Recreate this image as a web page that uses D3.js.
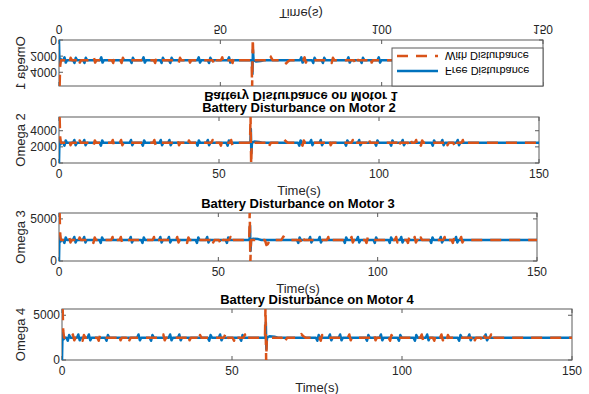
<!DOCTYPE html>
<html>
<head>
<meta charset="utf-8">
<script src="https://cdn.jsdelivr.net/npm/d3@7"></script>
<style>
body{margin:0;background:#fff;}
svg{display:block;font-family:"Liberation Sans",Arial,sans-serif;}
</style>
</head>
<body>
<div id="chart"></div>
<script>
// chart data
var titles = ["Battery Disturbance on Motor 1","Battery Disturbance on Motor 2","Battery Disturbance on Motor 3","Battery Disturbance on Motor 4"];
var yLabels = ["Omega 1","Omega 2","Omega 3","Omega 4"];
var xLabel = "Time(s)";
var xTicks = [0,50,100,150];
var yTicks = [[0,2000,4000],[0,2000,4000],[0,5000],[0,5000]];
var seriesNames = ["Free Disturbance","With Disturbance"];

var freeDist = [[0,0],[0.15,3000],[0.4,2300],[0.8,2500],
  [1.3,2500],[1.7,2150],[2.1,2800],[2.5,2500],
  [4.4,2500],[4.8,2850],[5.2,2200],[5.6,2500],
  [7.5,2500],[7.9,2850],[8.3,2200],[8.7,2500],
  [12.7,2500],[13.1,2150],[13.5,2800],[13.9,2500],
  [22.1,2500],[22.5,2850],[22.9,2200],[23.3,2500],
  [25.8,2500],[26.2,2150],[26.6,2800],[27,2500],
  [31.4,2500],[31.8,2850],[32.2,2200],[32.6,2500],
  [34.1,2500],[34.5,2850],[34.9,2200],[35.3,2500],
  [42.9,2500],[43.3,2150],[43.7,2800],[44.1,2500],
  [46.1,2500],[46.5,2850],[46.9,2200],[47.3,2500],
  [52.3,2500],[52.7,2150],[53.1,2800],[53.5,2500],
  [59.8,2500],[59.95,4200],[60.1,1200],[60.3,2500],[61,2650],[62.5,2600],[63.5,2500],
  [74.7,2500],[75.1,2150],[75.5,2800],[75.9,2500],
  [78.4,2500],[78.8,2850],[79.2,2200],[79.6,2500],
  [81.4,2500],[81.8,2850],[82.2,2200],[82.6,2500],
  [89.3,2500],[89.7,2150],[90.1,2800],[90.5,2500],
  [93.4,2500],[93.8,2850],[94.2,2200],[94.6,2500],
  [98.7,2500],[99.1,2150],[99.5,2800],[99.9,2500],
  [103.4,2500],[103.8,2150],[104.2,2800],[104.6,2500],
  [107,2500],[107.4,2850],[107.8,2200],[108.2,2500],
  [116.4,2500],[116.8,2150],[117.2,2800],[117.6,2500],
  [119.4,2500],[119.8,2850],[120.2,2200],[120.6,2500],
  [124.2,2500],[124.6,2850],[125,2200],[125.4,2500],
  [150,2500]];

var withDist = [[0,5600],[0.2,5600],[0.35,3300],[0.6,2500],
  [2.8,2500],[3.2,2850],[3.6,2200],[4,2500],
  [5.65,2500],[6.05,2150],[6.45,2800],[6.85,2500],
  [10.4,2500],[10.8,2150],[11.2,2800],[11.6,2500],
  [16.4,2500],[16.8,2850],[17.2,2200],[17.6,2500],
  [19,2500],[19.4,2850],[19.8,2200],[20.2,2500],
  [29.4,2500],[29.8,2850],[30.2,2200],[30.6,2500],
  [36.7,2500],[37.1,2850],[37.5,2200],[37.9,2500],
  [39.8,2500],[40.2,2150],[40.6,2800],[41,2500],
  [47.6,2500],[48,2850],[48.4,2200],[48.8,2500],
  [50.2,2500],[50.6,2150],[51,2800],[51.4,2500],
  [53.4,2500],[53.8,2850],[54.2,2200],[54.6,2500],
  [59.7,2500],[59.85,6000],[60.05,-200],[60.25,2500],
  [64.6,2500],[65.1,1900],[65.5,2000],[66.2,2500],
  [69.8,2500],[70.4,2900],[71,2650],[71.6,2500],
  [75.7,2500],[76.1,2150],[76.5,2800],[76.9,2500],
  [84.1,2500],[84.5,2850],[84.9,2200],[85.3,2500],
  [91.4,2500],[91.8,2850],[92.2,2200],[92.6,2500],
  [96.1,2500],[96.5,2150],[96.9,2800],[97.3,2500],
  [105.4,2500],[105.8,2850],[106.2,2200],[106.6,2500],
  [109.1,2500],[109.5,2150],[109.9,2800],[110.3,2500],
  [111.2,2500],[111.6,2850],[112,2200],[112.4,2500],
  [112.7,2500],[113.1,2150],[113.5,2800],[113.9,2500],
  [120.6,2500],[121,2850],[121.4,2200],[121.8,2500],
  [123.2,2500],[123.6,2150],[124,2800],[124.4,2500],
  [125.8,2500],[126.2,2850],[126.6,2200],[127,2500],
  [150,2500]];

// panel boxes in the picture (first one is mirrored upside down)
var panels = [
  {x0:59, x1:543, y0:40, y1:86, flip:true},
  {x0:59, x1:539, y0:117, y1:163},
  {x0:59, x1:537, y0:213, y1:261},
  {x0:62, x1:572, y0:309, y1:360}
];
var blue = "#0072bd", orange = "#d95319", axisCol = "#5a5a5a", textCol = "#262626";

var svg = d3.select("#chart").append("svg")
  .attr("width", 589)
  .attr("height", 394);

panels.forEach(function(p, i) {
  var g = svg.append("g");
  if (p.flip) g.attr("transform", "translate(0," + (p.y0 + p.y1) + ") scale(1,-1)");

  var x = d3.scaleLinear().domain([0,150]).range([p.x0, p.x1]);
  var y = d3.scaleLinear().domain([0,5700]).range([p.y1, p.y0]);

  g.append("rect")
    .attr("x", p.x0).attr("y", p.y0)
    .attr("width", p.x1 - p.x0).attr("height", p.y1 - p.y0)
    .attr("fill", "#fff").attr("stroke", axisCol).attr("stroke-width", 1);

  // ticks inside the box on all four sides
  xTicks.forEach(function(t) {
    g.append("line").attr("x1", x(t)).attr("x2", x(t)).attr("y1", p.y1).attr("y2", p.y1 - 4).attr("stroke", axisCol);
    g.append("line").attr("x1", x(t)).attr("x2", x(t)).attr("y1", p.y0).attr("y2", p.y0 + 4).attr("stroke", axisCol);
    g.append("text").attr("x", x(t)).attr("y", p.y1 + 11)
      .attr("text-anchor", "middle").attr("dominant-baseline", "central")
      .attr("font-size", 12).attr("fill", textCol).text(t);
  });
  yTicks[i].forEach(function(t) {
    g.append("line").attr("x1", p.x0).attr("x2", p.x0 + 4).attr("y1", y(t)).attr("y2", y(t)).attr("stroke", axisCol);
    g.append("line").attr("x1", p.x1).attr("x2", p.x1 - 4).attr("y1", y(t)).attr("y2", y(t)).attr("stroke", axisCol);
    g.append("text").attr("x", p.x0 - 2).attr("y", y(t))
      .attr("text-anchor", "end").attr("dominant-baseline", "central")
      .attr("font-size", 12).attr("fill", textCol).text(t);
  });

  g.append("text").attr("x", (p.x0 + p.x1) / 2).attr("y", p.y1 + 27)
    .attr("text-anchor", "middle").attr("dominant-baseline", "central")
    .attr("font-size", 13).attr("fill", textCol).text(xLabel);
  g.append("text")
    .attr("transform", "translate(20," + ((p.y0 + p.y1) / 2) + ") rotate(-90)")
    .attr("text-anchor", "middle").attr("dominant-baseline", "central")
    .attr("font-size", 13).attr("fill", textCol).text(yLabels[i]);
  g.append("text").attr("x", (p.x0 + p.x1) / 2).attr("y", p.y0 - 10)
    .attr("text-anchor", "middle").attr("dominant-baseline", "central")
    .attr("font-size", 13).attr("font-weight", "bold").attr("fill", "#000").text(titles[i]);

  var clipId = "clip" + i;
  g.append("clipPath").attr("id", clipId).append("rect")
    .attr("x", p.x0).attr("y", p.y0).attr("width", p.x1 - p.x0).attr("height", p.y1 - p.y0);

  var line = d3.line().x(function(d) { return x(d[0]); }).y(function(d) { return y(d[1]); });
  var plot = g.append("g").attr("clip-path", "url(#" + clipId + ")");
  plot.append("path").datum(freeDist).attr("d", line)
    .attr("fill", "none").attr("stroke", blue).attr("stroke-width", 2.5).attr("stroke-linejoin", "round");
  plot.append("path").datum(withDist).attr("d", line)
    .attr("fill", "none").attr("stroke", orange).attr("stroke-width", 2.5)
    .attr("stroke-dasharray", "11,8").attr("stroke-linejoin", "round");

  // legend only on the first panel
  if (i == 0) {
    var lx = 392, ly = p.y0;
    var lg = g.append("g");
    lg.append("rect").attr("x", lx).attr("y", ly).attr("width", p.x1 - lx).attr("height", 38)
      .attr("fill", "#fff").attr("stroke", axisCol).attr("stroke-width", 1);
    var rows = [{name: seriesNames[0], col: blue, dash: null, yy: ly + 15},
                {name: seriesNames[1], col: orange, dash: "11,8", yy: ly + 30}];
    rows.forEach(function(r) {
      lg.append("line").attr("x1", lx + 5).attr("x2", lx + 46).attr("y1", r.yy).attr("y2", r.yy)
        .attr("stroke", r.col).attr("stroke-width", 2.5).attr("stroke-dasharray", r.dash);
      lg.append("text").attr("x", lx + 53).attr("y", r.yy)
        .attr("dominant-baseline", "central").attr("font-size", 11).attr("fill", "#000").text(r.name);
    });
  }
});
</script>
</body>
</html>
